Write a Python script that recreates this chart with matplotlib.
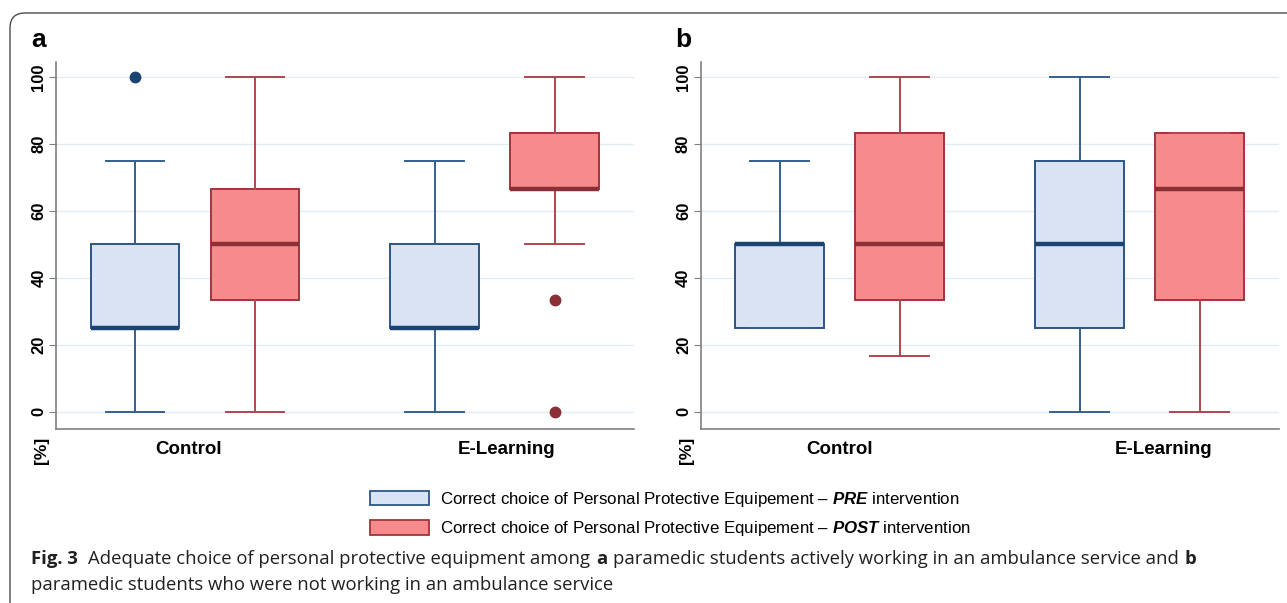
import matplotlib
matplotlib.use("Agg")
import matplotlib.pyplot as plt
from matplotlib.patches import Patch, FancyBboxPatch
from matplotlib.transforms import IdentityTransform

# data: [whisker low, q1, median, q3, whisker high]
groups = ["Control", "E-Learning"]
a_pre = [[0, 25, 25, 50, 75], [0, 25, 25, 50, 75]]
a_pre_fliers = [[100], []]
a_post = [[0, 33.3, 50, 66.7, 100], [50, 66.7, 66.7, 83.3, 100]]
a_post_fliers = [[], [33.3, 0]]
b_pre = [[25, 25, 50, 50, 75], [0, 25, 50, 75, 100]]
b_pre_fliers = [[], []]
b_post = [[16.7, 33.3, 50, 83.3, 100], [0, 33.3, 66.7, 83.3, 83.3]]
b_post_fliers = [[], []]
yticks = [0, 20, 40, 60, 80, 100]

PRE_FILL, PRE_EDGE, PRE_MED, PRE_WHIS = "#dae3f3", "#2c5585", "#1b4472", "#34608f"
POST_FILL, POST_EDGE, POST_MED, POST_WHIS = "#f78b8b", "#a3343d", "#8b2f37", "#b0464e"

CHART_FONT = "Liberation Sans"
plt.rcParams["mathtext.fontset"] = "custom"
plt.rcParams["mathtext.bfit"] = "Liberation Sans:bold:italic"
plt.rcParams["mathtext.it"] = "Liberation Sans:italic"
plt.rcParams["mathtext.bf"] = "Liberation Sans:bold"
plt.rcParams["mathtext.rm"] = "Liberation Sans"


def make_stats(rows, fliers):
    out = []
    for r, f in zip(rows, fliers):
        out.append(dict(whislo=r[0], q1=r[1], med=r[2], q3=r[3], whishi=r[4], fliers=f))
    return out


def draw_boxes(ax, stats, pos, fill, edge, med, whis):
    ax.bxp(stats, positions=pos, widths=0.74, capwidths=0.49, patch_artist=True,
           showfliers=True,
           boxprops=dict(facecolor=fill, edgecolor=edge, linewidth=1.4),
           medianprops=dict(color=med, linewidth=3.2, solid_capstyle="butt"),
           whiskerprops=dict(color=whis, linewidth=1.4),
           capprops=dict(color=whis, linewidth=1.4),
           flierprops=dict(marker="o", markersize=7.5, markerfacecolor=med,
                           markeredgecolor=med))


def panel(ax, pre, pre_f, post, post_f, letter, label_x):
    ax.set_xlim(0.34, 5.16)
    ax.set_ylim(-5.1, 104.5)
    for y in yticks:
        ax.axhline(y, color="#e3ebf1", lw=1.0, zorder=0)
    draw_boxes(ax, make_stats(pre, pre_f), [1, 3.5], PRE_FILL, PRE_EDGE, PRE_MED, PRE_WHIS)
    draw_boxes(ax, make_stats(post, post_f), [2, 4.5], POST_FILL, POST_EDGE, POST_MED, POST_WHIS)
    for s in ["top", "right"]:
        ax.spines[s].set_visible(False)
    for s in ["left", "bottom"]:
        ax.spines[s].set_color("#808080")
        ax.spines[s].set_linewidth(1.2)
    ax.set_yticks(yticks)
    ax.set_yticklabels([str(v) for v in yticks], rotation=90, va="center",
                       fontsize=12, fontweight="bold", family=CHART_FONT)
    ax.tick_params(axis="y", length=5, color="#808080", pad=2)
    ax.set_xticks(label_x)
    ax.set_xticklabels(groups, fontsize=13.5, fontweight="bold", family=CHART_FONT)
    ax.tick_params(axis="x", length=0, pad=9)
    ax.text(-0.025, -0.02, "[%]", transform=ax.transAxes, rotation=90, ha="center", va="top",
            fontsize=12.5, fontweight="bold", family=CHART_FONT)
    ax.text(-0.03, 1.06, letter, transform=ax.transAxes, ha="center", va="center",
            fontsize=19, fontweight="bold", family=CHART_FONT)


fig = plt.figure(figsize=(12.87, 6.03), dpi=100)

# journal frame (pixel coordinates)
frame = FancyBboxPatch((10, -200), 1500, 200 + 603 - 13, transform=IdentityTransform(),
                       boxstyle="round,pad=0,rounding_size=15", fill=False,
                       edgecolor="#4d4d4d", lw=1.0)
fig.add_artist(frame)

ax_a = fig.add_axes([0.0435, 0.2886, 0.449, 0.6086])
ax_b = fig.add_axes([0.5444, 0.2886, 0.4494, 0.6086])
panel(ax_a, a_pre, a_pre_fliers, a_post, a_post_fliers, "a", [1.45, 4.1])
panel(ax_b, b_pre, b_pre_fliers, b_post, b_post_fliers, "b", [1.5, 4.2])

# legend
handles = [Patch(facecolor=PRE_FILL, edgecolor=PRE_EDGE, lw=1.3),
           Patch(facecolor=POST_FILL, edgecolor=POST_EDGE, lw=1.3)]
labels = ["Correct choice of Personal Protective Equipement \u2013 $\\mathbfit{PRE}$ intervention",
          "Correct choice of Personal Protective Equipement \u2013 $\\mathbfit{POST}$ intervention"]
fig.legend(handles, labels, loc="center left", bbox_to_anchor=(370 / 1287, 1 - 514 / 603),
           frameon=False, borderpad=0, borderaxespad=0, handlelength=3.5, handleheight=0.95,
           handletextpad=0.65, labelspacing=0.62, prop=dict(family=CHART_FONT, size=12.2))

# caption with mixed weights
cap_font = "Open Sans"
cap_size = 13.3
cap_col = "#231f20"
t = fig.text(31 / 1287, 1 - 568 / 603, "Fig. 3", fontsize=cap_size, fontweight="bold",
             family=cap_font, va="bottom", color=cap_col)
pieces = [("Adequate choice of personal protective equipment among", "normal", 7.5),
          ("a", "bold", 4.0),
          ("paramedic students actively working in an ambulance service and", "normal", 4.0),
          ("b", "bold", 4.0)]
prev = t
for txt, w, gap in pieces:
    prev = ax_b.annotate(txt, xy=(1, 0), xycoords=prev, xytext=(gap, 0),
                         textcoords="offset points", fontsize=cap_size, fontweight=w,
                         family=cap_font, va="bottom", ha="left", color=cap_col,
                         annotation_clip=False)
fig.text(31 / 1287, 1 - 594 / 603, "paramedic students who were not working in an ambulance service",
         fontsize=cap_size, family=cap_font, va="bottom", color=cap_col)

fig.savefig("out.png", dpi=100)
